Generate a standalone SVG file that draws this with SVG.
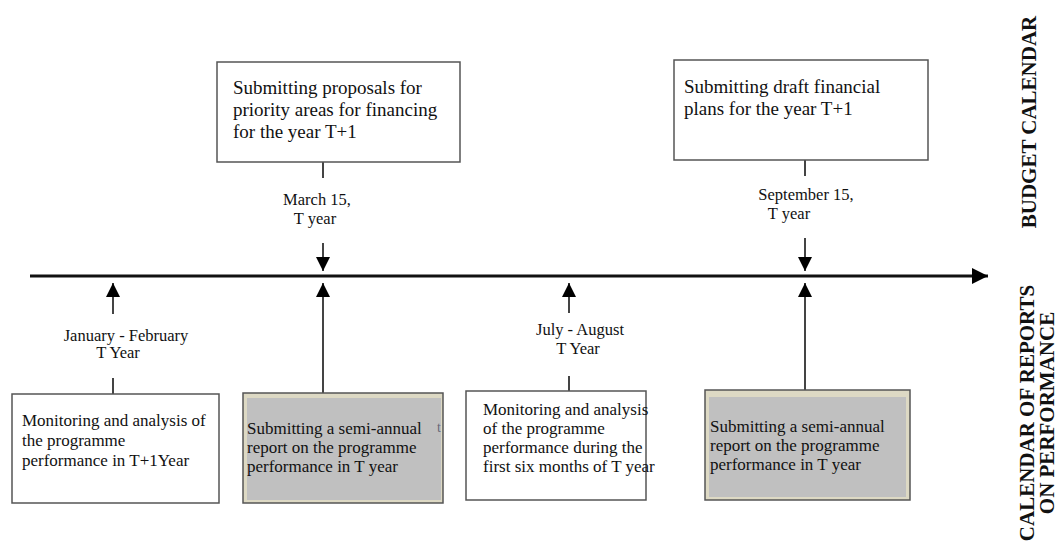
<svg xmlns="http://www.w3.org/2000/svg" width="1057" height="542" viewBox="0 0 1057 542">
  <defs>
    <marker id="tri" viewBox="0 0 10 10" refX="10" refY="5" markerWidth="14" markerHeight="14" markerUnits="userSpaceOnUse" orient="auto">
      <path d="M0,0 L10,5 L0,10 Z" fill="#000"/>
    </marker>
    <marker id="triBig" viewBox="0 0 10 10" refX="10" refY="5" markerWidth="16" markerHeight="16" markerUnits="userSpaceOnUse" orient="auto">
      <path d="M0,0 L10,5 L0,10 Z" fill="#000"/>
    </marker>
  </defs>
  <style>
    text { font-family: "Liberation Serif", "Times New Roman", serif; fill: #111; }
    .box { fill: #fff; stroke: #555; stroke-width: 1.5; }
    .frame { fill: #ddd9c4; stroke: #555; stroke-width: 1.5; }
    .shade { fill: #c0c0c0; }
    .big { font-size: 19px; }
    .mid { font-size: 17px; }
    .lab { font-size: 16.5px; }
    .side { font-size: 21px; font-weight: bold; }
    .link { stroke: #444; stroke-width: 2; fill: none; }
    .arr { stroke: #444; stroke-width: 2; fill: none; marker-end: url(#tri); }
    .axis { stroke: #111; stroke-width: 3; fill: none; marker-end: url(#triBig); }
  </style>

  <rect width="1057" height="542" fill="#fff"/>

  <!-- connectors -->
  <g id="connectors">
    <line class="axis" x1="30" y1="276" x2="988" y2="276"/>
    <!-- budget calendar, above the axis -->
    <line class="link" x1="323" y1="162" x2="323" y2="178"/>
    <line class="arr" x1="323" y1="243" x2="323" y2="271"/>
    <line class="link" x1="805" y1="160" x2="805" y2="176"/>
    <line class="arr" x1="805" y1="238" x2="805" y2="271"/>
    <!-- reports calendar, below the axis -->
    <line class="arr" x1="113" y1="314" x2="113" y2="283"/>
    <line class="link" x1="113" y1="378" x2="113" y2="394"/>
    <line class="arr" x1="323" y1="393" x2="323" y2="283"/>
    <line class="arr" x1="569" y1="313" x2="569" y2="283"/>
    <line class="link" x1="569" y1="376" x2="569" y2="391"/>
    <line class="arr" x1="805" y1="390" x2="805" y2="283"/>
  </g>

  <!-- date labels -->
  <g id="dates">
    <text class="lab" x="317" y="205" text-anchor="middle">March 15,</text>
    <text class="lab" x="315" y="224" text-anchor="middle">T year</text>
    <text class="lab" x="806" y="200" text-anchor="middle">September 15,</text>
    <text class="lab" x="789" y="219" text-anchor="middle">T year</text>
    <text class="lab" x="126" y="341" text-anchor="middle">January - February</text>
    <text class="lab" x="118" y="358" text-anchor="middle">T Year</text>
    <text class="lab" x="580" y="335" text-anchor="middle">July - August</text>
    <text class="lab" x="578" y="354" text-anchor="middle">T Year</text>
  </g>

  <!-- budget calendar nodes -->
  <g id="proposals">
    <rect class="box" x="217" y="62" width="243" height="100"/>
    <text class="big" x="233" y="94">Submitting proposals for</text>
    <text class="big" x="233" y="116">priority areas for financing</text>
    <text class="big" x="233" y="138">for the year T+1</text>
  </g>
  <g id="draft-plans">
    <rect class="box" x="674" y="60" width="254" height="100"/>
    <text class="big" x="684" y="93">Submitting draft financial</text>
    <text class="big" x="684" y="115">plans for the year T+1</text>
  </g>

  <!-- reports calendar nodes -->
  <g id="monitoring-t1">
    <rect class="box" x="12" y="394" width="207" height="109"/>
    <text class="mid" x="22" y="426">Monitoring and analysis of</text>
    <text class="mid" x="22" y="446">the programme</text>
    <text class="mid" x="22" y="466">performance in T+1Year</text>
  </g>
  <g id="report-march">
    <rect class="frame" x="243" y="393" width="200" height="110"/>
    <rect class="shade" x="247" y="398" width="194" height="102"/>
    <text class="mid" x="247" y="434">Submitting a semi-annual</text>
    <text class="mid" x="247" y="453">report on the programme</text>
    <text class="mid" x="247" y="472">performance in T year</text>
    <text x="437" y="432" style="font-size:14px; fill:#667">t</text>
  </g>
  <g id="monitoring-half">
    <rect class="box" x="466" y="391" width="180" height="109"/>
    <text class="mid" x="483" y="415">Monitoring and analysis</text>
    <text class="mid" x="483" y="434">of the programme</text>
    <text class="mid" x="483" y="453">performance during the</text>
    <text class="mid" x="483" y="472">first six months of T year</text>
  </g>
  <g id="report-september">
    <rect class="frame" x="705" y="390" width="205" height="110"/>
    <rect class="shade" x="709" y="397" width="197" height="100"/>
    <text class="mid" x="710" y="432">Submitting a semi-annual</text>
    <text class="mid" x="710" y="451">report on the programme</text>
    <text class="mid" x="710" y="470">performance in T year</text>
  </g>

  <!-- side captions -->
  <g id="captions">
    <text class="side" transform="translate(1036,122) rotate(-90)" text-anchor="middle">BUDGET CALENDAR</text>
    <text class="side" transform="translate(1034,413) rotate(-90)" text-anchor="middle">CALENDAR OF REPORTS</text>
    <text class="side" transform="translate(1054,413) rotate(-90)" text-anchor="middle">ON PERFORMANCE</text>
  </g>
</svg>
